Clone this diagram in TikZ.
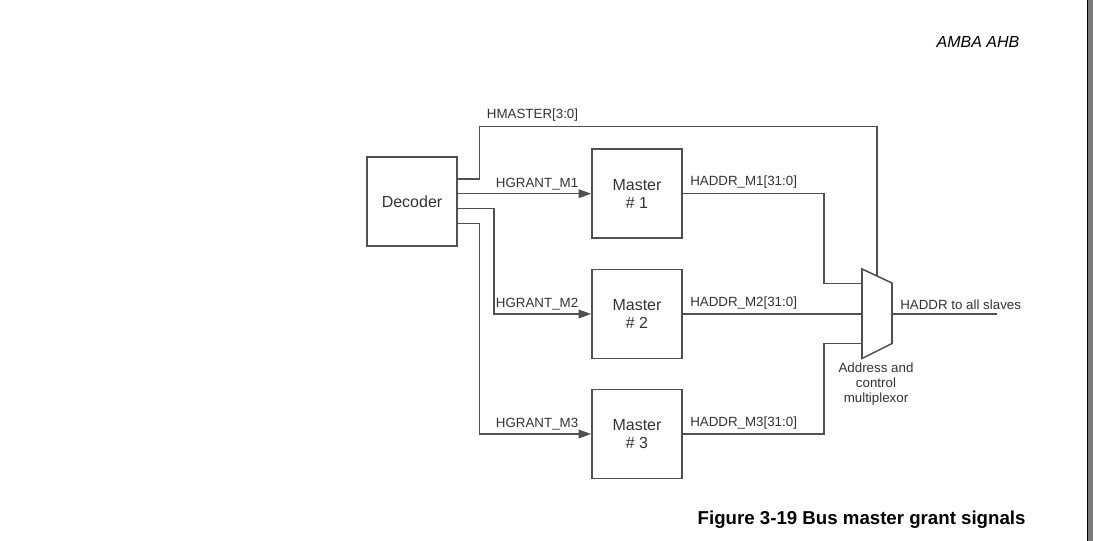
\documentclass[tikz,border=0pt]{standalone}
\usepackage{fontspec}
\setmainfont{Liberation Sans}
\usetikzlibrary{arrows.meta}

\definecolor{wirec}{HTML}{505050}
\definecolor{ink}{HTML}{333333}
\definecolor{edgec}{HTML}{7A7A7A}

\begin{document}
\begin{tikzpicture}[x=0.75pt,y=-0.75pt,
    block/.style={draw=wirec,line width=1.15pt,minimum width=67.5pt,minimum height=66.75pt,
                  inner sep=0pt,align=center,text=ink,font=\fontsize{12}{13.5}\selectfont},
    sig/.style={draw=wirec,line width=1.15pt},
    grant/.style={sig,-{Triangle[length=9.5pt,width=6.5pt]}},
    lbl/.style={anchor=west,inner sep=0pt,text=ink,font=\fontsize{10}{11.5}\selectfont}]
    \useasboundingbox (0,0) rectangle (1093,541);

    % page edge
    \fill[edgec] (1087,0) rectangle (1093,541);
    \draw[black,line width=0.9pt] (1087.6,0) -- (1087.6,541);

    % header and caption
    \node[text=black,font=\itshape\fontsize{12}{14}\selectfont] (hdr) at (978,42) {AMBA AHB};
    \node[anchor=west,text=black,font=\bfseries\fontsize{14}{16}\selectfont] (title) at (693,519.5)
        {Figure 3-19 Bus master grant signals};

    % blocks
    \node[block] (dec) at (412,201.5) {Decoder};
    \node[block] (m1) at (637,193.7) {Master\\\# 1};
    \node[block] (m2) at (637,314) {Master\\\# 2};
    \node[block] (m3) at (637,434) {Master\\\# 3};

    % multiplexor
    \coordinate (mxa) at (862,269);
    \coordinate (mxb) at (892,283);
    \coordinate (mxc) at (892,343.5);
    \coordinate (mxd) at (862,358.5);
    \draw[sig,fill=white] (mxa) -- (mxb) -- (mxc) -- (mxd) -- cycle;
    \coordinate (mxs) at (877,276);
    \coordinate (mx1) at (862,283.3);
    \coordinate (mx2) at (862,314);
    \coordinate (mx3) at (862,343.3);
    \coordinate (mxo) at (892,314);
    \coordinate (out) at (997,314);
    \node[align=center,inner sep=0pt,text=ink,font=\fontsize{10}{11.5}\selectfont] (mxl) at (876,384)
        {Address and\\control\\multiplexor};

    % decoder outputs
    \coordinate (d0) at (457,179);
    \coordinate (d2) at (457,208.7);
    \coordinate (d3) at (457,223.7);

    \draw[sig] (d0) -- (479.3,179) -- (479.3,126.7) -- (877,126.7) -- (mxs);
    \draw[grant] (dec.east |- m1.west) -- (m1.west);
    \draw[grant] (d2) -- (494,208.7) |- (m2.west);
    \draw[grant] (d3) -- (479.3,223.7) |- (m3.west);

    % address buses
    \draw[sig] (m1.east) -- (824,193.7) |- (mx1);
    \draw[sig] (m2.east) -- (mx2);
    \draw[sig] (m3.east) -- (824,434) |- (mx3);
    \draw[sig] (mxo) -- (out);

    % labels
    \node[lbl] (lhm) at (486.7,115) {HMASTER[3:0]};
    \node[lbl] (lg1) at (495.7,184) {HGRANT\_M1};
    \node[lbl] (lg2) at (495.7,304) {HGRANT\_M2};
    \node[lbl] (lg3) at (495.7,424) {HGRANT\_M3};
    \node[lbl] (la1) at (690,182.3) {HADDR\_M1[31:0]};
    \node[lbl] (la2) at (690,303.3) {HADDR\_M2[31:0]};
    \node[lbl] (la3) at (690,422.7) {HADDR\_M3[31:0]};
    \node[lbl] (lout) at (900,304.3) {HADDR to all slaves};
\end{tikzpicture}
\end{document}
